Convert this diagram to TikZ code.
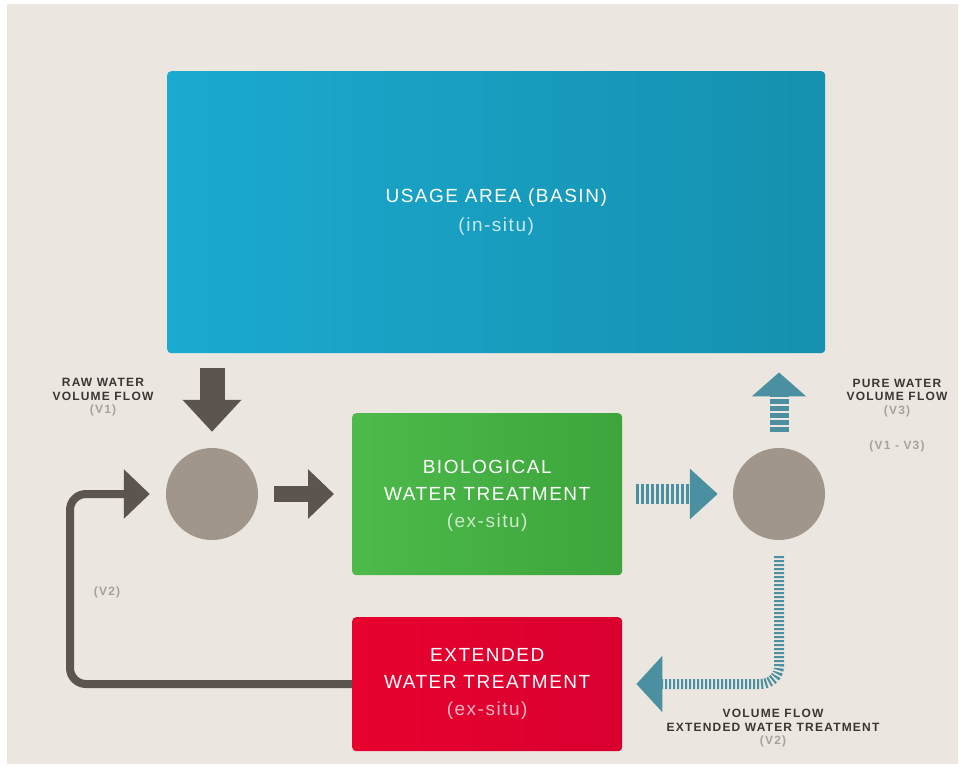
\documentclass[tikz,border=0pt]{standalone}
\usepackage{fontspec}
\setmainfont{Liberation Sans}
\newfontfamily\boxfont[LetterSpace=8]{Liberation Sans}
\newfontfamily\labelfont[LetterSpace=10]{Liberation Sans}
\usetikzlibrary{arrows.meta}

\definecolor{bgbeige}{HTML}{EBE6DF}
\definecolor{basintop}{HTML}{1BAAD0}
\definecolor{basinbot}{HTML}{1590AE}
\definecolor{biotop}{HTML}{4DBA4A}
\definecolor{biobot}{HTML}{3DA53C}
\definecolor{exttop}{HTML}{E8022E}
\definecolor{extbot}{HTML}{D90030}
\definecolor{mixgray}{HTML}{A0968B}
\definecolor{flowdark}{HTML}{5C544E}
\definecolor{flowteal}{HTML}{4A90A0}
\definecolor{labeldark}{HTML}{3A3633}
\definecolor{labellight}{HTML}{A8A29B}

\tikzset{
  tank/.style={rounded corners=4pt, inner sep=0pt, anchor=north west},
  boxtext/.style={text=white, align=center,
    font=\boxfont\fontsize{19}{27}\selectfont},
  mixer/.style={circle, fill=mixgray, minimum size=92pt, inner sep=0pt},
  flowlabel/.style={text=labeldark, align=center,
    font=\labelfont\bfseries\fontsize{12}{13.5}\selectfont},
  darkflow/.style={draw=flowdark, line width=#1},
  tealflow/.style={draw=flowteal, line width=#1, dash pattern=on 3pt off 2pt},
}

\begin{document}
\begin{tikzpicture}[x=1pt, y=-1pt]
  \useasboundingbox (0,0) rectangle (961,766);
  \fill[bgbeige] (7,4) rectangle (958,764);

  % boxes
  \node[tank, minimum width=658pt, minimum height=282pt,
        left color=basintop, right color=basinbot] (basin) at (167,71) {};
  \node[tank, minimum width=270pt, minimum height=162pt,
        left color=biotop, right color=biobot] (bio) at (352,413) {};
  \node[tank, minimum width=270pt, minimum height=134pt,
        left color=exttop, right color=extbot] (ext) at (352,617) {};

  \node[boxtext, font=\boxfont\fontsize{19}{29}\selectfont] at (basin.center)
    {USAGE AREA (BASIN)\\{\color{white!75!basintop}(in-situ)}};
  \node[boxtext] at ([yshift=-2pt]bio.center)
    {BIOLOGICAL\\WATER TREATMENT\\{\color{white!70!biotop}(ex-situ)}};
  \node[boxtext] at (ext.center)
    {EXTENDED\\WATER TREATMENT\\{\color{white!70!exttop}(ex-situ)}};

  % mixing points
  \node[mixer] (mixin) at (212,494) {};
  \node[mixer] (mixout) at (779,494) {};

  % dark flows
  \draw[darkflow=25pt, -{Triangle[width=57pt, length=32pt]},
        shorten <=15pt, shorten >=16pt] (basin.south -| mixin) -- (mixin.north);
  \draw[darkflow=16pt, -{Triangle[width=48pt, length=26pt]},
        shorten <=16pt, shorten >=18pt] (mixin.east) -- (bio.west |- mixin);
  \coordinate (loopbot) at (70,684);
  \draw[darkflow=8pt, rounded corners=16pt, -{Triangle[width=48pt, length=26pt]},
        shorten >=16pt] (ext.west) -- (loopbot) -- (loopbot |- mixin) -- (mixin.west);

  % teal flows
  \draw[tealflow=20pt, -{Triangle[width=49pt, length=28pt]},
        shorten <=14pt, shorten >=15pt] (bio.east |- mixout) -- (mixout.west);
  \draw[tealflow=19pt, dash pattern=on 5pt off 2pt, -{Triangle[width=53pt, length=24pt]},
        shorten <=16pt, shorten >=19pt] (mixout.north) -- (basin.south -| mixout);
  \coordinate (extbend) at (779,684);
  \draw[tealflow=10pt, dash pattern=on 2pt off 2pt, rounded corners=18pt,
        -{Triangle[width=55pt, length=26pt]},
        shorten <=16pt, shorten >=14pt] (mixout.south) -- (extbend) -- (ext.east |- extbend);

  % labels
  \node[flowlabel] (rawlbl) at (103,397.5)
    {RAW WATER\\VOLUME FLOW\\{\color{labellight}(V1)}};
  \node[flowlabel] (purelbl) at (897,398)
    {PURE WATER\\VOLUME FLOW\\{\color{labellight}(V3)}};
  \node[flowlabel, text=labellight] (difflbl) at (897,446) {(V1 - V3)};
  \node[flowlabel, text=labellight] (looplbl) at (107,592) {(V2)};
  \node[flowlabel] (extlbl) at (773,728.5)
    {VOLUME FLOW\\EXTENDED WATER TREATMENT\\{\color{labellight}(V2)}};
\end{tikzpicture}
\end{document}
